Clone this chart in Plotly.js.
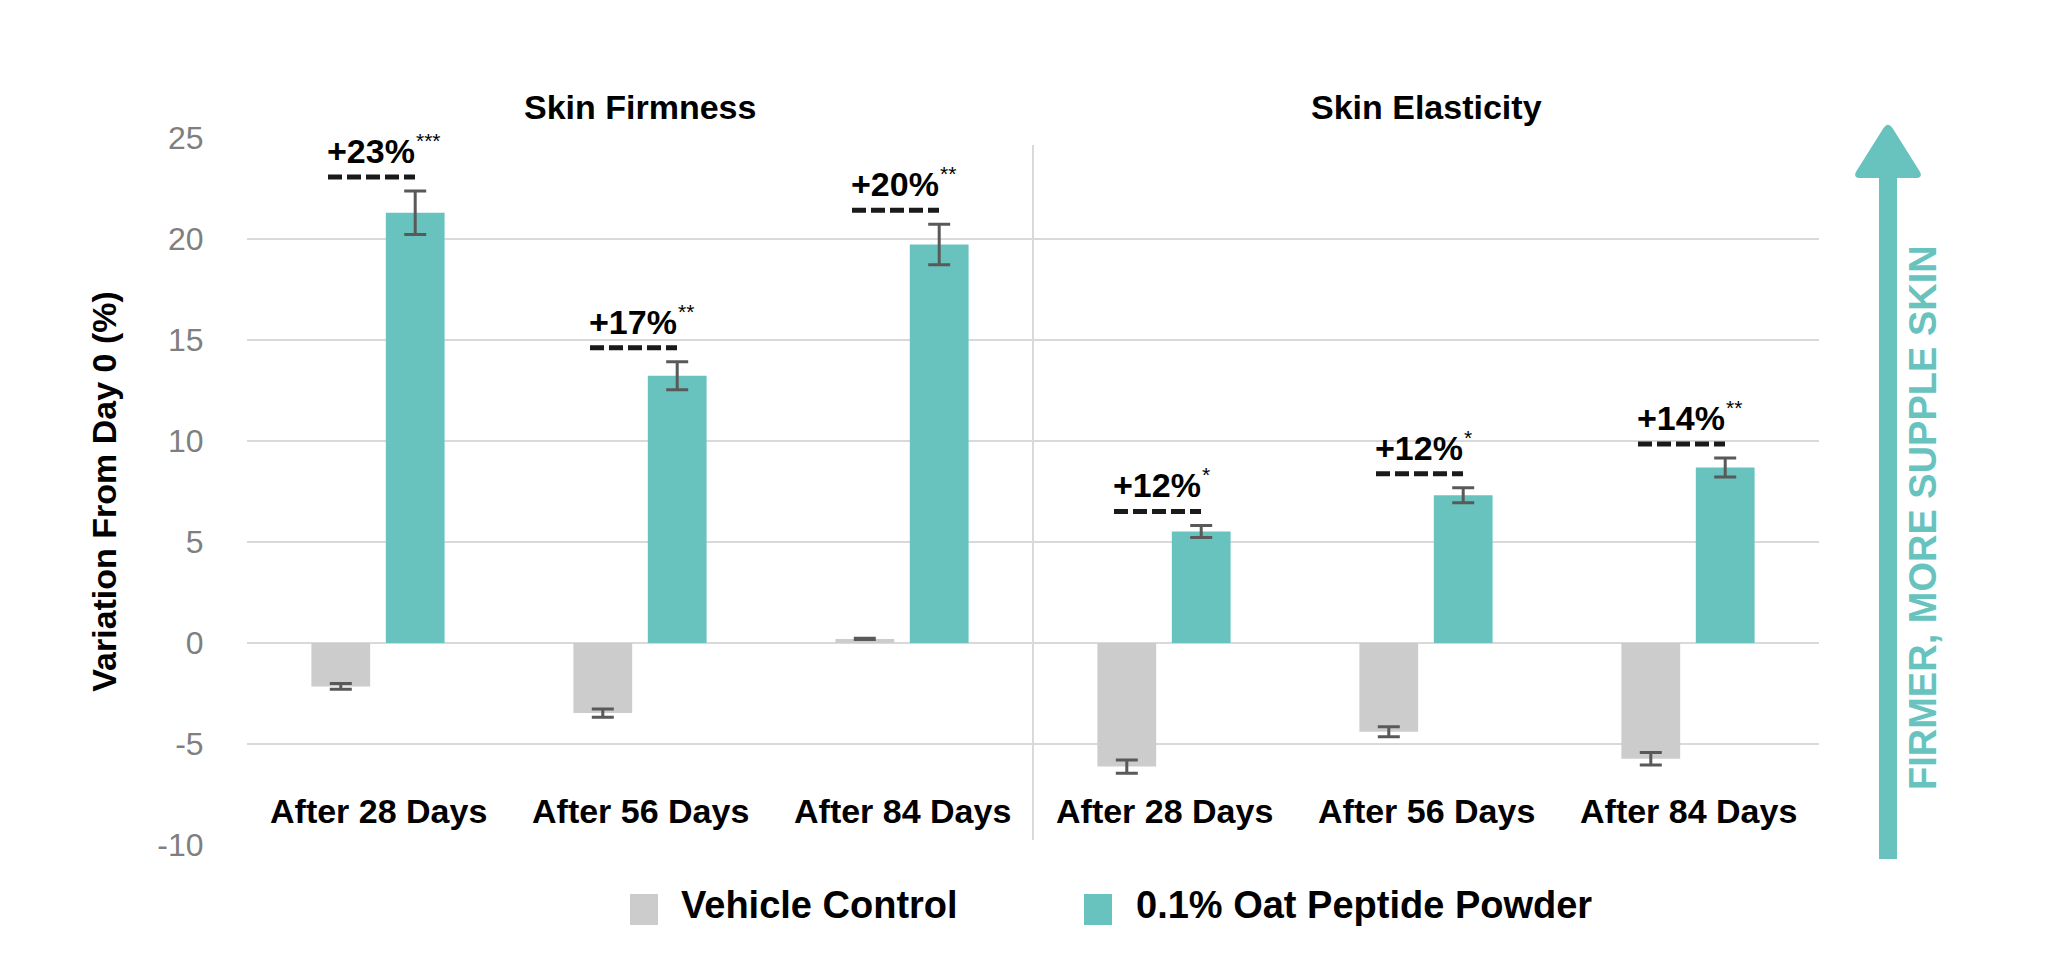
<!DOCTYPE html>
<html>
<head>
<meta charset="utf-8">
<script src="https://cdn.plot.ly/plotly-3.0.1.min.js"></script>
<style>html,body{margin:0;padding:0;background:#fff;}#chart{width:2048px;height:971px;}</style>
</head>
<body>
<div id="chart"></div>
<script>
// ---- data ----
var categories = ['After 28 Days','After 56 Days','After 84 Days','After 28 Days','After 56 Days','After 84 Days'];
var groupTitles = ['Skin Firmness','Skin Elasticity'];
var seriesNames = ['Vehicle Control','0.1% Oat Peptide Powder'];
var vehicle    = [-2.15, -3.47, 0.2, -6.12, -4.39, -5.73];
var vehicleErr = [0.14, 0.2, 0.03, 0.33, 0.25, 0.31];
var oat        = [21.3, 13.23, 19.73, 5.52, 7.31, 8.69];
var oatErr     = [1.08, 0.69, 1.0, 0.3, 0.37, 0.47];
var pctLabels  = ['+23%','+17%','+20%','+12%','+12%','+14%'];
var sigLabels  = ['***','**','**','*','*','**'];
var yTicks     = [-10, -5, 0, 5, 10, 15, 20, 25];
var arrowText  = 'FIRMER, MORE SUPPLE SKIN';
var yTitle     = 'Variation From Day 0 (%)';

// ---- styles ----
var TEAL = '#68c3bf', GRAY = '#cccccc', FONT = 'Liberation Sans, Arial, sans-serif';
var W = 2048, H = 971, L = 247, R = 229, T = 138, B = 126;
var PW = W - L - R, PH = H - T - B;
function px(x){ return (x - L) / PW; }
function py(y){ return (H - B - y) / PH; }

var measureCtx = document.createElement('canvas').getContext('2d');
function textWidth(t, font){ measureCtx.font = font; return measureCtx.measureText(t).width; }

var xs = categories.map(function(c, i){ return i; });

var traces = [
  {type:'bar', name:seriesNames[0], x:xs, y:vehicle, marker:{color:GRAY},
   error_y:{type:'data', array:vehicleErr, visible:true, color:'#595959', thickness:3, width:11},
   showlegend:false, hoverinfo:'y'},
  {type:'bar', name:seriesNames[1], x:xs, y:oat, marker:{color:TEAL},
   error_y:{type:'data', array:oatErr, visible:true, color:'#595959', thickness:3, width:11},
   showlegend:false, hoverinfo:'y'}
];

var annotations = [];
var shapes = [];

// category labels
categories.forEach(function(c, i){
  annotations.push({x:i, y:-8.3, xref:'x', yref:'y', text:'<b>'+c+'</b>', showarrow:false,
    font:{family:FONT, size:34, color:'#000'}, xanchor:'center', yanchor:'middle'});
});
// group titles
groupTitles.forEach(function(g, k){
  annotations.push({x:1 + 3*k, y:1.044, xref:'x', yref:'paper', text:'<b>'+g+'</b>', showarrow:false,
    font:{family:FONT, size:34, color:'#000'}, xanchor:'center', yanchor:'middle'});
});
// percent labels + significance stars + dashed lines
pctLabels.forEach(function(p, i){
  var top = oat[i] + oatErr[i];
  var w = textWidth(p, 'bold 34px "Liberation Sans", Arial, sans-serif');
  annotations.push({x:i, y:top, xref:'x', yref:'y', text:'<b>'+p+'</b>',
    showarrow:false, font:{family:FONT, size:34, color:'#000'}, xanchor:'left', yanchor:'bottom',
    xshift:-52, yshift:20, borderpad:0});
  annotations.push({x:i, y:top, xref:'x', yref:'y', text:sigLabels[i],
    showarrow:false, font:{family:FONT, size:21, color:'#000'}, xanchor:'left', yanchor:'bottom',
    xshift:-52 + w + 1, yshift:38, borderpad:0});
  shapes.push({type:'line', xref:'x', yref:'y', xsizemode:'pixel', ysizemode:'pixel',
    xanchor:i, yanchor:top, x0:-50, x1:37, y0:14, y1:14,
    line:{color:'#1a1a1a', width:5, dash:'14px,5px'}});
});
// divider
shapes.push({type:'line', xref:'x', yref:'paper', x0:2.5, x1:2.5, y0:py(840), y1:py(145),
  line:{color:'#d9d9d9', width:2}});

// arrow
shapes.push({type:'line', xref:'paper', yref:'paper', x0:px(1888), x1:px(1888), y0:py(859), y1:py(172),
  line:{color:TEAL, width:18}});
(function(){
  var Tp=[1888,121], Lp=[1852,178], Rp=[1924,178], r=9;
  function toward(a, b, d){ var dx=b[0]-a[0], dy=b[1]-a[1], len=Math.sqrt(dx*dx+dy*dy); return [a[0]+dx*d/len, a[1]+dy*d/len]; }
  function P(p){ return px(p[0]).toFixed(5)+','+py(p[1]).toFixed(5); }
  var a1=toward(Tp,Lp,r), a2=toward(Tp,Rp,r), b1=toward(Rp,Tp,r), b2=toward(Rp,Lp,r), c1=toward(Lp,Rp,r), c2=toward(Lp,Tp,r);
  var path='M'+P(a1)+' Q'+P(Tp)+' '+P(a2)+' L'+P(b1)+' Q'+P(Rp)+' '+P(b2)+' L'+P(c1)+' Q'+P(Lp)+' '+P(c2)+' Z';
  shapes.push({type:'path', xref:'paper', yref:'paper', path:path, fillcolor:TEAL, line:{width:0}});
})();
annotations.push({x:px(1923), y:py(518), xref:'paper', yref:'paper', text:'<b>'+arrowText+'</b>', textangle:-90,
  showarrow:false, font:{family:FONT, size:38, color:TEAL}, xanchor:'center', yanchor:'middle'});

// custom legend
var legendX = [[630,658,679],[1084,1112,1134]];
var legendColors = [GRAY, TEAL];
seriesNames.forEach(function(n, k){
  shapes.push({type:'rect', xref:'paper', yref:'paper', x0:px(legendX[k][0]), x1:px(legendX[k][1]),
    y0:py(925), y1:py(894), fillcolor:legendColors[k], line:{width:0}});
  annotations.push({x:px(legendX[k][2]), y:py(905), xref:'paper', yref:'paper', text:'<b>'+n+'</b>',
    showarrow:false, font:{family:FONT, size:38, color:'#000'}, xanchor:'left', yanchor:'middle'});
});

var layout = {
  width:W, height:H, margin:{l:L, r:R, t:T, b:B},
  paper_bgcolor:'#fff', plot_bgcolor:'#fff',
  barmode:'group', bargap:0.432, bargroupgap:0.21,
  showlegend:false,
  font:{family:FONT, color:'#000'},
  xaxis:{range:[-0.5, 5.5], showticklabels:false, showgrid:false, zeroline:false, showline:false, ticks:'', fixedrange:true},
  yaxis:{range:[-10, 25], tickvals:yTicks, ticktext:yTicks.map(String), showgrid:true, gridcolor:'#d9d9d9', gridwidth:2,
    zeroline:false, showline:false, ticks:'outside', ticklen:36, tickcolor:'rgba(0,0,0,0)',
    tickfont:{family:FONT, size:32, color:'#7f7f7f'},
    title:{text:'<b>'+yTitle+'</b>', font:{family:FONT, size:34, color:'#000'}, standoff:30}, fixedrange:true},
  shapes:shapes, annotations:annotations
};

Plotly.newPlot('chart', traces, layout, {displayModeBar:false, staticPlot:true});
</script>
</body>
</html>
